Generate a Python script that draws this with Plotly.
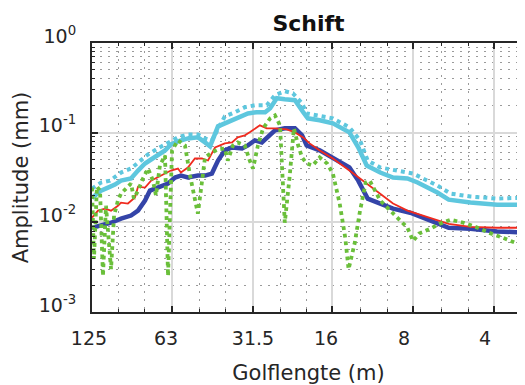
import math
import plotly.graph_objects as go

# Wavelength (m) and amplitude (mm) per series
cyan_solid_x = [125, 115.7, 109.0, 102.7, 97.5, 89.5, 84.3, 79.4, 75.4, 71.1, 66.9, 63.6, 59.9, 55.0, 50.5,
                47.5, 45.5, 42.5, 39.4, 35.9, 32.9, 30.5, 28.4, 27.2, 25.7, 24.0, 22.0, 20.5, 19.7, 17.8,
                15.9, 13.8, 12.8, 11.9, 10.6, 9.5, 8.4, 7.7, 6.5, 5.9, 4.9, 3.9, 3.0]
cyan_solid_y = [0.0187, 0.0226, 0.0244, 0.0264, 0.0292, 0.0308, 0.0378, 0.0453, 0.0502, 0.0557, 0.0634, 0.0740,
                0.0799, 0.0863, 0.0886, 0.0779, 0.0703, 0.1177, 0.1303, 0.148, 0.164, 0.169, 0.169, 0.187,
                0.242, 0.236, 0.230, 0.169, 0.1445, 0.1374, 0.127, 0.1008, 0.0685, 0.0430, 0.0359, 0.0316,
                0.0308, 0.0278, 0.0215, 0.0179, 0.0166, 0.0157, 0.0157]

cyan_dot_x = [125, 115.7, 107.2, 97.5, 89.5, 84.3, 77.4, 71.1, 65.2, 59.9, 55.0, 50.5, 47.5, 44.8, 41.8,
              40.1, 36.8, 33.8, 31.0, 28.0, 26.1, 24.0, 22.4, 20.7, 19.9, 17.8, 15.9, 13.8, 12.6, 11.8,
              10.6, 9.2, 8.0, 6.5, 5.8, 4.9, 3.9, 3.0]
cyan_dot_y = [0.0238, 0.0278, 0.0292, 0.0359, 0.0398, 0.0465, 0.0572, 0.0667, 0.0779, 0.0886, 0.0957, 0.0957,
              0.0863, 0.0820, 0.1208, 0.152, 0.169, 0.192, 0.202, 0.202, 0.262, 0.290, 0.275, 0.213, 0.164,
              0.156, 0.1445, 0.1147, 0.0820, 0.0489, 0.0409, 0.0378, 0.0350, 0.0257, 0.0209, 0.0194, 0.0184,
              0.0189]

blue_x = [125, 115.7, 106.2, 97.5, 89.5, 84.3, 79.4, 76.1, 72.9, 69.3, 65.2, 61.4, 58.4, 55.0, 50.5,
          47.5, 44.8, 42.5, 40.1, 37.7, 34.6, 32.9, 31.0, 29.2, 27.7, 26.1, 24.0, 22.0, 20.7, 19.9,
          17.8, 15.9, 13.8, 12.8, 11.8, 10.6, 9.5, 8.2, 7.4, 6.5, 5.9, 4.9, 3.9, 3.0]
blue_y = [0.0087, 0.0092, 0.0099, 0.0110, 0.0119, 0.0135, 0.0175, 0.0226, 0.0238, 0.0257, 0.0271, 0.0316,
          0.0332, 0.0316, 0.0332, 0.0332, 0.0350, 0.0489, 0.0634, 0.0685, 0.0667, 0.0721, 0.0820, 0.0779,
          0.0886, 0.106, 0.1117, 0.1117, 0.0933, 0.0721, 0.0634, 0.0529, 0.0409, 0.0292, 0.0184, 0.0162,
          0.0142, 0.0128, 0.0113, 0.0099, 0.0087, 0.0085, 0.0079, 0.0077]

red_x = [125, 118.7, 111.8, 106.2, 100.1, 97.5, 91.9, 86.5, 84.3, 79.4, 75.4, 71.1, 66.9, 63.6, 59.9,
         58.4, 55.0, 51.8, 48.8, 46.3, 43.6, 40.1, 37.7, 35.9, 33.8, 32.4, 31.0, 29.7, 28.0, 26.1,
         23.6, 22.0, 20.5, 19.4, 17.8, 15.9, 13.8, 11.9, 10.6, 9.5, 8.4, 7.4, 6.5, 5.9, 4.9, 3.9, 3.0]
red_y = [0.0113, 0.0135, 0.0142, 0.0135, 0.0153, 0.0166, 0.0162, 0.0189, 0.0250, 0.0244, 0.0292, 0.0316,
         0.0350, 0.0378, 0.0398, 0.0359, 0.0409, 0.0515, 0.0515, 0.0489, 0.0685, 0.0759, 0.0779, 0.0886,
         0.0933, 0.1008, 0.1117, 0.1208, 0.1117, 0.1117, 0.1089, 0.1008, 0.0886, 0.0759, 0.0634, 0.0515,
         0.0378, 0.0271, 0.0209, 0.0162, 0.0135, 0.0119, 0.0104, 0.0096, 0.0089, 0.0087, 0.0087]

green_x = [125, 122.9, 119.8, 116.7, 113.8, 110.9, 106.2, 103.5, 100.1, 97.5, 93.4, 89.5, 87.3, 84.3, 80.8,
           77.4, 74.2, 72.3, 69.9, 66.9, 65.2, 63.0, 59.9, 56.4, 54.0, 50.5, 47.5, 44.8, 42.5, 40.1,
           39.1, 37.4, 35.9, 33.8, 32.4, 31.5, 30.2, 28.9, 27.2, 26.1, 25.0, 24.0, 23.0, 22.2, 21.4,
           20.7, 19.9, 18.9, 17.8, 16.7, 15.9, 15.0, 14.3, 13.9, 13.2, 12.6, 12.0, 11.6, 10.6, 9.5,
           8.4, 8.0, 7.6, 6.9, 6.4, 5.8, 5.2, 4.6, 4.2, 3.7, 3.0]
green_y = [0.0244, 0.0039, 0.0250, 0.0226, 0.00252, 0.0153, 0.0030, 0.0119, 0.0175, 0.0209, 0.0238, 0.0271,
           0.0184, 0.0226, 0.0308, 0.0398, 0.0292, 0.0199, 0.0430, 0.0557, 0.00252, 0.0634, 0.0820, 0.0721,
           0.0332, 0.0125, 0.0529, 0.0602, 0.0650, 0.0667, 0.0489, 0.0721, 0.0779, 0.0721, 0.0489, 0.0398,
           0.0721, 0.1117, 0.1445, 0.156, 0.1208, 0.0099, 0.0332, 0.1117, 0.0721, 0.0529, 0.0453, 0.0430,
           0.0529, 0.0453, 0.0350, 0.0162, 0.0067, 0.0030, 0.0058, 0.0135, 0.0278, 0.0292, 0.0175, 0.0125,
           0.0087, 0.0062, 0.0075, 0.0085, 0.0096, 0.0107, 0.0099, 0.0087, 0.0077, 0.0067, 0.0052]

x_tick_vals = [125, 63, 31.5, 16, 8, 4]
x_tick_text = ["125\u00a0", "63\u00a0\u00a0", "31.5", "16\u00a0\u00a0", "8\u00a0\u00a0\u00a0", "4\u00a0\u00a0\u00a0"]
x_minor_vals = [125, 100, 80, 63, 50, 40, 31.5, 25, 20, 16, 12.5, 10, 8, 6.3, 5, 4, 3.15]
y_tick_vals = [0.001, 0.01, 0.1, 1]
y_tick_text = ["10<sup>-3</sup>", "10<sup>-2</sup>", "10<sup>-1</sup>", "10<sup>0</sup>"]
y_minor_vals = [m * 10 ** e for e in (-3, -2, -1) for m in range(2, 10)]

AX = "#262626"
FONT = "DejaVu Sans"

fig = go.Figure()
fig.add_trace(go.Scatter(x=cyan_solid_x, y=cyan_solid_y, mode="lines",
                         line=dict(color="#5ec7de", width=4.5)))
fig.add_trace(go.Scatter(x=cyan_dot_x, y=cyan_dot_y, mode="lines",
                         line=dict(color="#5ec7de", width=4, dash="dot")))
fig.add_trace(go.Scatter(x=blue_x, y=blue_y, mode="lines",
                         line=dict(color="#3444a8", width=4.5)))
fig.add_trace(go.Scatter(x=red_x, y=red_y, mode="lines",
                         line=dict(color="#f02a1e", width=1.8)))
fig.add_trace(go.Scatter(x=green_x, y=green_y, mode="lines",
                         line=dict(color="#6abf3a", width=3.8, dash="dot")))

# the page body adds an 8 px offset, so the figure is 8 px smaller than the window
fig.update_layout(
    width=517, height=377,
    template="none",
    showlegend=False,
    paper_bgcolor="white", plot_bgcolor="white",
    margin=dict(l=84, r=0, t=35, b=73, pad=0),
    font=dict(family=FONT, color=AX),
    title=dict(text="<b>Schift</b>", x=0.5, xref="paper", xanchor="center",
               y=1 - 15 / 377, yref="container", yanchor="middle",
               font=dict(family=FONT, size=22, color="#111111")),
    xaxis=dict(
        type="log", range=[math.log10(125), math.log10(3.07)],
        tickmode="array", tickvals=x_tick_vals, ticktext=x_tick_text,
        ticks="inside", ticklen=6, tickwidth=1.5, tickcolor=AX,
        showline=True, linecolor=AX, linewidth=2, mirror="ticks",
        showgrid=True, gridcolor="#d9d9d9", gridwidth=2, zeroline=False,
        tickfont=dict(family=FONT, size=19, color=AX),
        ticklabelstandoff=8,
        automargin=False,
        minor=dict(tickmode="array", tickvals=x_minor_vals, ticks="inside", ticklen=3,
                   tickcolor=AX, tickwidth=1, showgrid=True, gridcolor="#9a9a9a",
                   griddash="2px,6px", gridwidth=1),
        title=dict(text="Golflengte (m)", font=dict(family=FONT, size=21, color=AX), standoff=18),
    ),
    yaxis=dict(
        type="log", range=[-3, 0],
        tickmode="array", tickvals=y_tick_vals, ticktext=y_tick_text,
        ticks="inside", ticklen=6, tickwidth=1.5, tickcolor=AX,
        showline=True, linecolor=AX, linewidth=2, mirror=False,
        showgrid=True, gridcolor="#d9d9d9", gridwidth=2, zeroline=False,
        tickfont=dict(family=FONT, size=19, color=AX),
        ticklabelshift=-7, ticklabelstandoff=10,
        automargin=False,
        minor=dict(tickmode="array", tickvals=y_minor_vals, ticks="inside", ticklen=3,
                   tickcolor=AX, tickwidth=1, showgrid=True, gridcolor="#9a9a9a",
                   griddash="2px,6px", gridwidth=1),
        title=dict(text="Amplitude (mm)", font=dict(family=FONT, size=21, color=AX), standoff=4),
    ),
)

fig.write_html("out.html")
